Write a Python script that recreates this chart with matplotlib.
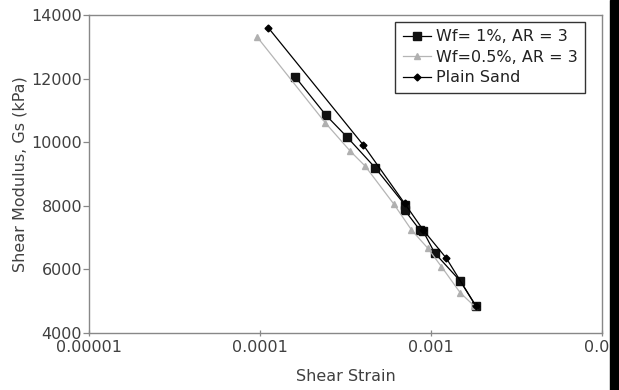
import matplotlib
matplotlib.use('Agg')
import matplotlib.pyplot as plt
from matplotlib.patches import Rectangle
from matplotlib.ticker import FixedLocator, NullLocator

plt.rcParams['font.family'] = ['DejaVu Sans']

# Wf = 1%, AR = 3
strain_wf1 = [1.61e-4, 2.43e-4, 3.22e-4, 4.71e-4, 7.03e-4, 7.0e-4, 8.6e-4, 9.0e-4, 1.05e-3, 1.48e-3, 1.83e-3]
gs_wf1 = [12050, 10850, 10170, 9200, 8030, 7870, 7240, 7200, 6520, 5640, 4850]

# Wf = 0.5%, AR = 3
strain_wf05 = [9.65e-5, 2.41e-4, 3.37e-4, 4.12e-4, 6.07e-4, 7.69e-4, 9.6e-4, 1.15e-3, 1.48e-3, 1.79e-3]
gs_wf05 = [13300, 10610, 9720, 9250, 8050, 7240, 6660, 6090, 5270, 4850]

# Plain sand
strain_plain = [1.118e-4, 4.02e-4, 7.0e-4, 9.0e-4, 1.23e-3, 1.83e-3]
gs_plain = [13600, 9910, 8080, 7240, 6350, 4850]

x_ticks = [1e-5, 1e-4, 1e-3, 1e-2]
x_labels = ['0.00001', '0.0001', '0.001', '0.01']
y_ticks = [4000, 6000, 8000, 10000, 12000, 14000]

fig = plt.figure(figsize=(6.19, 3.90), dpi=100)
ax = fig.add_axes([89 / 619, 1 - 333 / 390, (602 - 89) / 619, (333 - 15) / 390])

ax.plot(strain_wf1, gs_wf1, color='black', lw=0.9, marker='s', ms=5.5,
        mfc='#111111', mec='#111111', label='Wf= 1%, AR = 3')
ax.plot(strain_wf05, gs_wf05, color='#b5b5b5', lw=0.9, marker='^', ms=5,
        mfc='#b0b0b0', mec='#b0b0b0', label='Wf=0.5%, AR = 3')
ax.plot(strain_plain, gs_plain, color='black', lw=0.9, marker='D', ms=3.5,
        mfc='black', mec='black', label='Plain Sand')

ax.set_xscale('log')
ax.set_xlim(1e-5, 1e-2)
ax.set_ylim(4000, 14000)
ax.xaxis.set_major_locator(FixedLocator(x_ticks))
ax.xaxis.set_minor_locator(NullLocator())
ax.set_xticklabels(x_labels)
ax.set_yticks(y_ticks)

txt = '#404040'
for s in ax.spines.values():
    s.set_color('#888888')
    s.set_linewidth(1.0)
ax.tick_params(axis='both', colors='#888888', labelcolor=txt, labelsize=11.5,
               length=4, width=0.9)
ax.tick_params(axis='x', direction='inout', pad=3)
ax.tick_params(axis='y', direction='out', pad=1)

ax.set_xlabel('Shear Strain', fontsize=11.5, color=txt, labelpad=10)
ax.set_ylabel('Shear Modulus, Gs (kPa)', fontsize=11.5, color=txt, labelpad=3)

leg = ax.legend(loc='upper right', bbox_to_anchor=(0.967, 0.978), fontsize=11.5,
                frameon=True, fancybox=False, edgecolor='black', handlelength=1.8,
                handletextpad=0.3, borderpad=0.45, labelspacing=0.35, borderaxespad=0.0)
leg.get_frame().set_linewidth(1.0)
for t in leg.get_texts():
    t.set_color('#222222')

# dark scan edge on the right side of the original image
fig.patches.append(Rectangle((610 / 619, 0), 9 / 619, 1, transform=fig.transFigure,
                             color='black', zorder=10))

fig.savefig('out.png', dpi=100)
